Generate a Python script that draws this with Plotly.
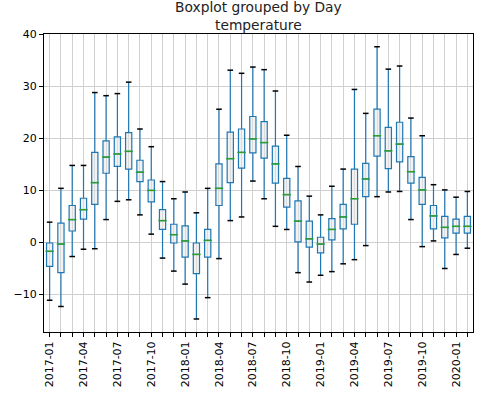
import plotly.graph_objects as go

months = ["2017-01","2017-02","2017-03","2017-04","2017-05","2017-06","2017-07","2017-08","2017-09","2017-10","2017-11","2017-12",
          "2018-01","2018-02","2018-03","2018-04","2018-05","2018-06","2018-07","2018-08","2018-09","2018-10","2018-11","2018-12",
          "2019-01","2019-02","2019-03","2019-04","2019-05","2019-06","2019-07","2019-08","2019-09","2019-10","2019-11","2019-12",
          "2020-01","2020-02"]
upper = [3.9,10.4,14.8,14.8,28.8,28.2,28.6,30.8,21.8,18.4,11.7,8.4,
         9.7,5.7,10.4,25.6,33.1,32.5,33.7,33.2,29.1,20.6,14.6,8.9,
         5.3,10.8,14.1,29.4,24.8,37.6,33.3,33.9,23.9,20.5,11.1,10.1,
         8.7,9.8]
q3 = [-0.1,3.7,7.1,8.5,17.3,19.5,20.3,21.1,15.8,12.0,6.3,3.5,
      3.2,-0.1,2.5,15.1,21.2,21.8,24.2,23.2,18.5,12.3,8.0,4.1,
      1.0,4.6,7.3,14.1,15.2,25.6,22.1,23.1,16.5,12.5,7.1,5.0,
      4.5,5.0]
median = [-1.7,-0.3,4.4,6.3,11.5,16.4,17.0,17.5,13.5,10.0,4.2,1.5,
          0.3,-2.3,0.4,10.4,16.1,17.3,19.9,19.2,15.1,9.2,4.1,0.7,
          -0.3,2.5,4.9,8.4,12.2,20.5,17.6,18.9,13.6,10.1,5.1,2.9,
          3.1,3.1]
q1 = [-4.6,-5.8,2.2,4.5,7.3,13.3,14.6,14.1,11.7,7.8,2.5,-0.1,
      -2.8,-6.0,-2.8,7.1,11.5,14.3,17.2,16.2,11.4,6.8,0.1,-0.9,
      -2.0,0.5,2.6,3.5,8.8,16.6,14.2,15.5,11.4,7.3,2.6,0.9,
      1.8,1.8]
lower = [-11.1,-12.3,-2.7,-1.3,-1.2,4.4,7.9,8.2,5.3,1.6,-3.0,-5.5,
         -8.0,-14.7,-10.6,-3.1,4.2,4.9,11.8,8.4,3.1,2.5,-5.8,-7.6,
         -6.3,-5.6,-4.1,-3.3,-0.6,8.8,9.7,9.8,4.4,-0.8,0.3,-5.0,
         -2.3,-1.1]
y_ticks = [-10, 0, 10, 20, 30, 40]

pos = list(range(1, len(months) + 1))
ticktext = [m if i % 3 == 0 else "" for i, m in enumerate(months)]

fig = go.Figure()
fig.add_trace(go.Box(
    x=pos, q1=q1, median=median, q3=q3, lowerfence=lower, upperfence=upper,
    width=0.55, whiskerwidth=0, boxpoints=False,
    line=dict(color="#1f77b4", width=1.2),
    fillcolor="rgba(230,230,230,0.5)",
    showlegend=False, hoverinfo="skip"))
# medians (green)
fig.add_trace(go.Scatter(
    x=pos, y=median, mode="markers", showlegend=False, hoverinfo="skip",
    marker=dict(symbol="line-ew", size=6, line=dict(color="#2ca02c", width=1.5))))
# caps (black)
fig.add_trace(go.Scatter(
    x=pos + pos, y=upper + lower, mode="markers", showlegend=False, hoverinfo="skip",
    marker=dict(symbol="line-ew", size=4, line=dict(color="black", width=1.5))))

fig.update_layout(
    width=500, height=399,
    margin=dict(l=44, r=27, t=34, b=63),
    paper_bgcolor="white", plot_bgcolor="white",
    font=dict(family="DejaVu Sans", size=11, color="black"),
    annotations=[dict(text="Boxplot grouped by Day<br>temperature", x=0.5, xref="paper",
                      y=1, yref="paper", yanchor="bottom", yshift=-1, showarrow=False,
                      font=dict(size=13.8, color="#222"))],
)
fig.update_xaxes(
    range=[0.5, len(months) + 0.5], tickmode="array", tickvals=pos, ticktext=ticktext,
    tickangle=-90, ticks="outside", ticklen=4, tickcolor="black",
    showgrid=True, gridcolor="#d0d0d0", gridwidth=1,
    showline=True, linecolor="black", linewidth=1, mirror=True, zeroline=False)
fig.update_yaxes(
    range=[-17.2, 40.05], tickmode="array", tickvals=y_ticks,
    ticks="outside", ticklen=4, tickcolor="black",
    showgrid=True, gridcolor="#d0d0d0", gridwidth=1,
    showline=True, linecolor="black", linewidth=1, mirror=True, zeroline=False)

fig.write_html("out.html", config={"displayModeBar": False},
               post_script="document.body.style.margin='0';document.body.style.overflow='hidden';")
